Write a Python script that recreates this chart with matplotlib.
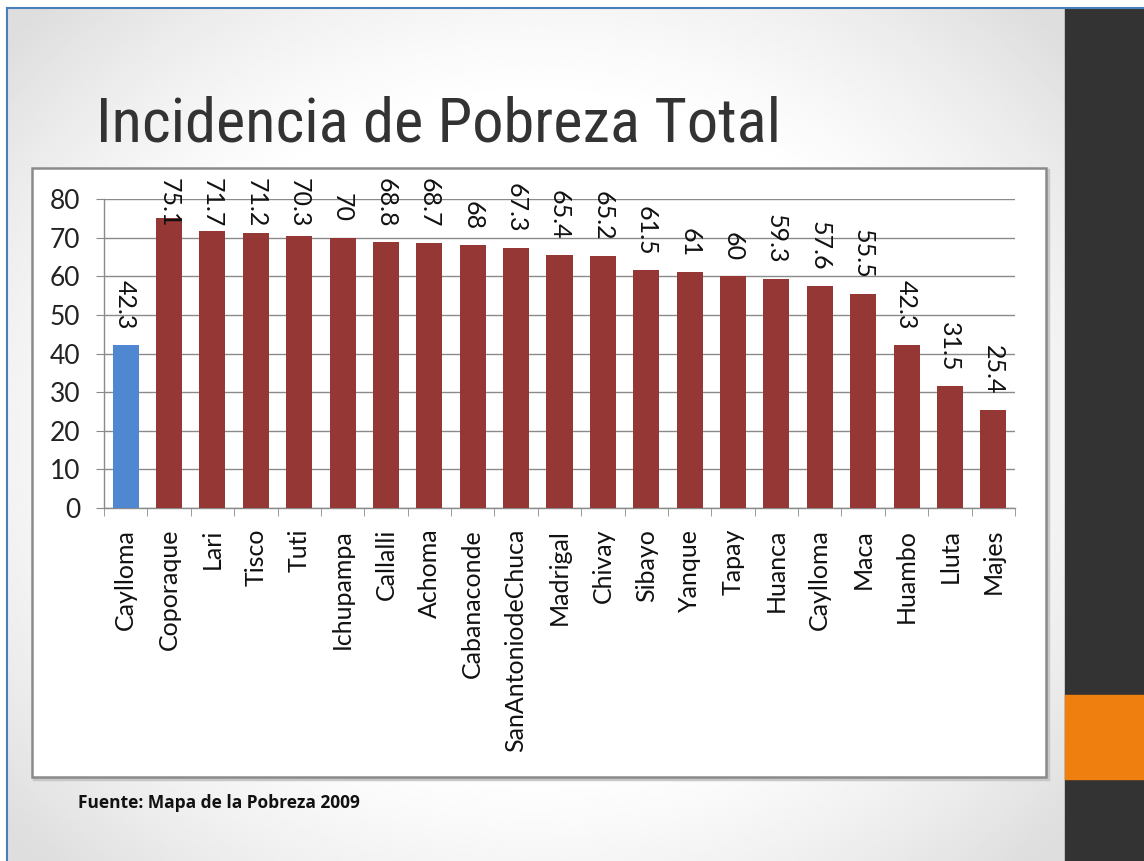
import numpy as np
import matplotlib
import matplotlib.pyplot as plt
from matplotlib import font_manager
from matplotlib.patches import Rectangle

matplotlib.use('Agg')

# -------------------------
# Data
# -------------------------
distritos = ["Caylloma", "Coporaque", "Lari", "Tisco", "Tuti", "Ichupampa",
             "Callalli", "Achoma", "Cabanaconde", "SanAntoniodeChuca",
             "Madrigal", "Chivay", "Sibayo", "Yanque", "Tapay", "Huanca",
             "Caylloma", "Maca", "Huambo", "Lluta", "Majes"]
pobreza = [42.3, 75.1, 71.7, 71.2, 70.3, 70, 68.8, 68.7, 68, 67.3,
           65.4, 65.2, 61.5, 61, 60, 59.3, 57.6, 55.5, 42.3, 31.5, 25.4]
etiquetas = ["42.3", "75.1", "71.7", "71.2", "70.3", "70", "68.8", "68.7",
             "68", "67.3", "65.4", "65.2", "61.5", "61", "60", "59.3",
             "57.6", "55.5", "42.3", "31.5", "25.4"]
y_ticks = [0, 10, 20, 30, 40, 50, 60, 70, 80]

ROJO = '#953735'
AZUL = '#4f87d0'
W, H = 1144, 861


def fuente_estrecha():
    # busca una sans estrecha instalada para el titulo
    fuentes = font_manager.fontManager.ttflist
    nombres = {f.name for f in fuentes}
    for n in ['Liberation Sans Narrow', 'Arial Narrow', 'Roboto Condensed',
              'Open Sans Condensed', 'DejaVu Sans Condensed']:
        if n in nombres:
            return dict(family=[n, 'DejaVu Sans'])
    for f in fuentes:
        if f.name in ('DejaVu Sans', 'Roboto', 'Open Sans', 'Noto Sans') and \
                'ondensed' in str(f.stretch):
            return dict(family=[f.name], fontstretch=f.stretch)
    return dict(family=['Liberation Sans', 'DejaVu Sans'])


fig = plt.figure(figsize=(W / 100, H / 100), dpi=100)
fig.patch.set_facecolor('white')

# -------------------------
# Slide background (pixel coords)
# -------------------------
bg = fig.add_axes([0, 0, 1, 1])
bg.set_xlim(0, W)
bg.set_ylim(H, 0)
bg.axis('off')

# soft gray vignette on the slide
gx = np.linspace(-1, 1, 400)
gy = np.linspace(-1, 1, 300)
GX, GY = np.meshgrid(gx, gy)
r = np.clip((GX ** 2 * 0.9 + GY ** 2 * 0.8), 0, 1.6)
shade = 1 - 0.12 * np.clip(r - 0.5, 0, None)
bg.imshow(shade, cmap='gray', vmin=0, vmax=1, extent=[7, 1065, 861, 8],
          aspect='auto', zorder=0)

# dark side band and orange block
bg.add_patch(Rectangle((1065, 8), W - 1065, H - 8, color='#333333', zorder=1))
bg.add_patch(Rectangle((1065, 695), W - 1065, 84, color='#ef7f0f', zorder=2))

# blue slide border
bg.plot([7, W], [8, 8], color='#4a7ebb', lw=1.5, zorder=3)
bg.plot([7, 7], [8, H], color='#4a7ebb', lw=1.5, zorder=3)

# chart frame
bg.add_patch(Rectangle((34, 170), 1014, 609, facecolor='none',
                       edgecolor='#c8c8c8', lw=2.5, zorder=3))
bg.add_patch(Rectangle((32, 168), 1014, 609, facecolor='white',
                       edgecolor='#8a8a8a', lw=1.8, zorder=4))

# title and source
titulo = bg.text(96, 142, "Incidencia de Pobreza Total", fontsize=52,
                 color='#333333', va='baseline', ha='left', zorder=5,
                 **fuente_estrecha())
bg.text(78, 803, "Fuente: Mapa de la Pobreza 2009", fontsize=12.5,
        family=['Open Sans', 'DejaVu Sans'], fontweight='bold',
        color='#111111', va='center', ha='left', zorder=5)

# -------------------------
# Bar chart
# -------------------------
ax = fig.add_axes([104 / W, 1 - 508 / H, 911 / W, 309 / H], zorder=10)
ax.patch.set_alpha(0)

x = np.arange(len(distritos))
colores = [AZUL] + [ROJO] * (len(distritos) - 1)
ax.bar(x, pobreza, width=0.6, color=colores, zorder=3)

ax.set_xlim(-0.5, len(distritos) - 0.5)
ax.set_ylim(0, 80)
ax.set_yticks(y_ticks)
ax.yaxis.grid(True, color='#8a8a8a', lw=1.0, zorder=0)
ax.tick_params(axis='y', length=6, color='#8a8a8a', pad=11,
               labelsize=19, labelcolor='#222222')

ax.set_xticks(x)
ax.set_xticklabels(distritos, rotation=90, fontsize=18, color='#111111')
ax.set_xticks(np.arange(-0.5, len(distritos)), minor=True)
ax.tick_params(axis='x', which='major', length=0, pad=15)
ax.tick_params(axis='x', which='minor', length=6, color='#8a8a8a')

for s in ['top', 'right']:
    ax.spines[s].set_visible(False)
for s in ['left', 'bottom']:
    ax.spines[s].set_color('#8a8a8a')
    ax.spines[s].set_linewidth(1.0)

fuente = ['Lato', 'DejaVu Sans']
for lab in ax.get_xticklabels() + ax.get_yticklabels():
    lab.set_family(fuente)

# value labels, rotated, pushed down when they hit the chart frame
anots = []
for xi, v, t in zip(x, pobreza, etiquetas):
    a = ax.annotate(t, xy=(xi, v), xytext=(0, 11), textcoords='offset points',
                    rotation=-90, ha='center', va='bottom', fontsize=18,
                    family=fuente, color='#111111', annotation_clip=False)
    anots.append(a)

fig.canvas.draw()

# fit the title to its width on the slide
bb = titulo.get_window_extent()
titulo.set_fontsize(52 * 686 / bb.width)

limite = H - 178
for a in anots:
    bb = a.get_window_extent()
    if bb.y1 > limite:
        dx, dy = a.xyann
        a.xyann = (dx, dy - (bb.y1 - limite) * 72 / 100)

fig.savefig('out.png', dpi=100)
